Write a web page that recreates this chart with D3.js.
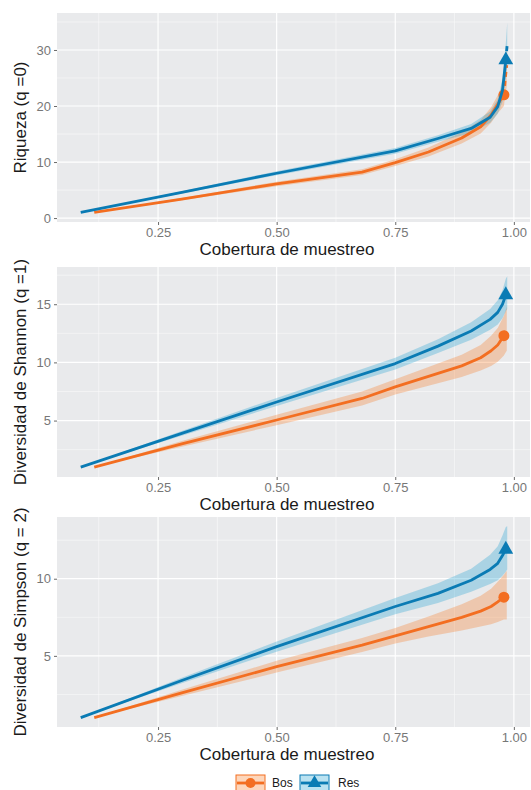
<!DOCTYPE html>
<html>
<head>
<meta charset="utf-8">
<script src="https://cdn.jsdelivr.net/npm/d3@7"></script>
<style>
  body { margin: 0; background: #fff; }
  svg { display: block; font-family: "Liberation Sans", Arial, sans-serif; }
</style>
</head>
<body>
<div id="chart"></div>
<script>
// sample coverage (shared by the three diversity orders)
const bosCov = [0.1155, 0.30, 0.50, 0.68, 0.75, 0.82, 0.89, 0.93, 0.952, 0.966, 0.979];
const bosCovExt = [0.979, 0.982, 0.985];
const resCov = [0.087, 0.30, 0.50, 0.75, 0.84, 0.91, 0.95, 0.966, 0.976, 0.983];
const resCovExt = [0.983, 0.986];

// q = 0
const richBos = [1, 3.4, 6.1, 8.2, 9.9, 11.8, 14.3, 16.3, 18.4, 20.3, 22.0];
const richBosLo = [1, 3.2, 5.7, 7.7, 9.3, 11.0, 13.3, 15.1, 17.0, 18.7, 20.0];
const richBosHi = [1, 3.6, 6.5, 8.7, 10.5, 12.6, 15.3, 17.5, 19.8, 21.9, 24.0];
const richBosExt = [22.0, 25.0, 27.3];
const richBosExtLo = [20.0, 22.0, 23.5];
const richBosExtHi = [24.0, 28.0, 31.0];
const richRes = [1, 4.6, 8.0, 12.0, 14.2, 16.0, 18.0, 19.9, 22.8, 28.2];
const richResLo = [1, 4.4, 7.65, 11.5, 13.6, 15.2, 17.0, 18.6, 20.8, 25.2];
const richResHi = [1, 4.8, 8.35, 12.5, 14.8, 16.8, 19.0, 21.2, 24.8, 31.2];
const richResExt = [28.2, 31.0];
const richResExtLo = [25.2, 27.1];
const richResExtHi = [31.2, 34.9];

// q = 1
const shanBos = [1, 3.0, 5.05, 6.9, 7.9, 8.8, 9.7, 10.4, 11.0, 11.5, 12.3];
const shanBosLo = [1, 2.75, 4.6, 6.3, 7.25, 8.0, 8.75, 9.3, 9.7, 10.05, 10.6];
const shanBosHi = [1, 3.25, 5.5, 7.5, 8.55, 9.6, 10.65, 11.5, 12.3, 12.95, 14.0];
const shanBosExt = [12.3, 12.6, 12.9];
const shanBosExtLo = [10.6, 10.8, 11.0];
const shanBosExtHi = [14.0, 14.4, 14.8];
const shanRes = [1, 3.9, 6.6, 9.9, 11.4, 12.7, 13.7, 14.3, 15.0, 15.8];
const shanResLo = [1, 3.7, 6.25, 9.4, 10.8, 11.95, 12.8, 13.25, 13.8, 14.4];
const shanResHi = [1, 4.1, 6.95, 10.4, 12.0, 13.45, 14.6, 15.35, 16.2, 17.2];
const shanResExt = [15.8, 16.1];
const shanResExtLo = [14.4, 14.6];
const shanResExtHi = [17.2, 17.4];

// q = 2
const simpBos = [1, 2.6, 4.3, 5.7, 6.3, 6.9, 7.5, 7.9, 8.2, 8.5, 8.8];
const simpBosLo = [1, 2.4, 3.92, 5.25, 5.8, 6.25, 6.65, 6.9, 7.05, 7.2, 7.35];
const simpBosHi = [1, 2.8, 4.68, 6.15, 6.8, 7.55, 8.35, 8.9, 9.35, 9.8, 10.25];
const simpBosExt = [8.8, 8.9, 9.0];
const simpBosExtLo = [7.35, 7.35, 7.35];
const simpBosExtHi = [10.25, 10.4, 10.5];
const simpRes = [1, 3.4, 5.6, 8.2, 9.05, 9.9, 10.6, 11.0, 11.5, 11.9];
const simpResLo = [1, 3.22, 5.27, 7.7, 8.42, 9.15, 9.65, 9.9, 10.2, 10.45];
const simpResHi = [1, 3.58, 5.93, 8.75, 9.7, 10.65, 11.55, 12.1, 12.8, 13.35];
const simpResExt = [11.9, 12.1];
const simpResExtLo = [10.45, 10.6];
const simpResExtHi = [13.35, 13.4];

const xTicks = [0.25, 0.50, 0.75, 1.00];
const xMinor = [0.125, 0.375, 0.625, 0.875];
const groups = ['Bos', 'Res'];

const panels = [
    { ylab: 'Riqueza (q =0)', top: 13, bottom: 222, ydom: [-0.7, 36.6], ticks: [0, 10, 20, 30], minor: [5, 15, 25, 35],
      bos: [richBos, richBosLo, richBosHi, richBosExt, richBosExtLo, richBosExtHi],
      res: [richRes, richResLo, richResHi, richResExt, richResExtLo, richResExtHi] },
    { ylab: 'Diversidad de Shannon (q =1)', top: 267, bottom: 477, ydom: [0.15, 18.2], ticks: [5, 10, 15], minor: [2.5, 7.5, 12.5, 17.5],
      bos: [shanBos, shanBosLo, shanBosHi, shanBosExt, shanBosExtLo, shanBosExtHi],
      res: [shanRes, shanResLo, shanResHi, shanResExt, shanResExtLo, shanResExtHi] },
    { ylab: 'Diversidad de Simpson (q = 2)', top: 517, bottom: 727, ydom: [0.39, 14.0], ticks: [5, 10], minor: [2.5, 7.5, 12.5],
      bos: [simpBos, simpBosLo, simpBosHi, simpBosExt, simpBosExtLo, simpBosExtHi],
      res: [simpRes, simpResLo, simpResHi, simpResExt, simpResExtLo, simpResExtHi] }
];

const W = 531, H = 790;
const left = 57, right = 530;
const lineCol = { Bos: '#f36e21', Res: '#0a7bb4' };
const fillCol = { Bos: '#f8761f', Res: '#1ba0d0' };

const svg = d3.select('#chart').append('svg')
    .attr('width', W)
    .attr('height', H);

const x = d3.scaleLinear().domain([0.037, 1.034]).range([left, right]);

const triangle = d3.symbol().type(d3.symbolTriangle).size(95);

panels.forEach(p => {
    let y = d3.scaleLinear().domain(p.ydom).range([p.bottom, p.top]);
    let g = svg.append('g');

    g.append('rect')
        .attr('x', left).attr('y', p.top)
        .attr('width', right - left).attr('height', p.bottom - p.top)
        .attr('fill', '#e9eaec');

    let clipId = 'clip' + p.top;
    g.append('clipPath').attr('id', clipId)
        .append('rect')
        .attr('x', left).attr('y', p.top)
        .attr('width', right - left).attr('height', p.bottom - p.top);

    // grid
    g.selectAll('.xmin').data(xMinor).enter().append('line')
        .attr('x1', d => x(d)).attr('x2', d => x(d))
        .attr('y1', p.top).attr('y2', p.bottom)
        .attr('stroke', '#fafafa').attr('stroke-width', 0.6);
    g.selectAll('.ymin').data(p.minor.filter(v => y(v) > p.top)).enter().append('line')
        .attr('x1', left).attr('x2', right)
        .attr('y1', d => y(d)).attr('y2', d => y(d))
        .attr('stroke', '#fafafa').attr('stroke-width', 0.6);
    g.selectAll('.xmaj').data(xTicks).enter().append('line')
        .attr('x1', d => x(d)).attr('x2', d => x(d))
        .attr('y1', p.top).attr('y2', p.bottom)
        .attr('stroke', '#fff').attr('stroke-width', 1.2);
    g.selectAll('.ymaj').data(p.ticks).enter().append('line')
        .attr('x1', left).attr('x2', right)
        .attr('y1', d => y(d)).attr('y2', d => y(d))
        .attr('stroke', '#fff').attr('stroke-width', 1.2);

    // axes
    let xAxis = d3.axisBottom(x).tickValues(xTicks).tickFormat(d3.format('.2f'))
        .tickSize(3).tickPadding(3);
    let ax = g.append('g').attr('transform', `translate(0, ${p.bottom})`).call(xAxis);
    let yAxis = d3.axisLeft(y).tickValues(p.ticks).tickFormat(d3.format('d'))
        .tickSize(3).tickPadding(3);
    let ay = g.append('g').attr('transform', `translate(${left}, 0)`).call(yAxis);
    [ax, ay].forEach(a => {
        a.select('.domain').remove();
        a.selectAll('line').attr('stroke', '#6a6a6a');
        a.selectAll('text').attr('fill', '#777').style('font-size', '13px');
    });

    g.append('text')
        .attr('x', 287).attr('y', p.bottom + 33)
        .attr('text-anchor', 'middle')
        .style('font-size', '17px').attr('fill', '#1a1a1a')
        .text('Cobertura de muestreo');

    g.append('text')
        .attr('transform', `translate(26, ${(p.top + p.bottom) / 2}) rotate(-90)`)
        .attr('text-anchor', 'middle')
        .style('font-size', '17px').attr('fill', '#1a1a1a')
        .text(p.ylab);

    let plot = g.append('g').attr('clip-path', `url(#${clipId})`);

    groups.forEach(k => {
        let cov = k === 'Bos' ? bosCov : resCov;
        let covExt = k === 'Bos' ? bosCovExt : resCovExt;
        let [val, lo, hi, ext, extLo, extHi] = k === 'Bos' ? p.bos : p.res;
        let obs = cov.map((c, i) => ({ c: c, v: val[i], lo: lo[i], hi: hi[i] }));
        let ex = covExt.map((c, i) => ({ c: c, v: ext[i], lo: extLo[i], hi: extHi[i] }));

        let area = d3.area().x(d => x(d.c)).y0(d => y(d.lo)).y1(d => y(d.hi));
        plot.append('path').datum(obs.concat(ex.slice(1)))
            .attr('d', area)
            .attr('fill', fillCol[k]).attr('fill-opacity', 0.3);
    });

    groups.forEach(k => {
        let cov = k === 'Bos' ? bosCov : resCov;
        let covExt = k === 'Bos' ? bosCovExt : resCovExt;
        let [val, lo, hi, ext] = k === 'Bos' ? p.bos : p.res;
        let line = d3.line().x(d => x(d[0])).y(d => y(d[1]));

        plot.append('path').datum(cov.map((c, i) => [c, val[i]]))
            .attr('d', line).attr('fill', 'none')
            .attr('stroke', lineCol[k]).attr('stroke-width', 2.8)
            .attr('stroke-linejoin', 'round');
        plot.append('path').datum(covExt.map((c, i) => [c, ext[i]]))
            .attr('d', line).attr('fill', 'none')
            .attr('stroke', lineCol[k]).attr('stroke-width', 2.8)
            .attr('stroke-dasharray', '5,4');

        let mx = x(cov[cov.length - 1]), my = y(val[val.length - 1]);
        if (k === 'Bos') {
            plot.append('circle').attr('cx', mx).attr('cy', my).attr('r', 5.5)
                .attr('fill', lineCol[k]);
        } else {
            plot.append('path').attr('d', triangle)
                .attr('transform', `translate(${mx}, ${my})`)
                .attr('fill', lineCol[k]);
        }
    });
});

// legend
const legend = svg.append('g').attr('transform', 'translate(236, 775)');
groups.forEach((k, i) => {
    let lg = legend.append('g').attr('transform', `translate(${i * 64}, 0)`);
    lg.append('rect').attr('x', 0).attr('y', 0).attr('width', 29).attr('height', 16)
        .attr('fill', fillCol[k]).attr('fill-opacity', 0.3)
        .attr('stroke', lineCol[k]).attr('stroke-width', 1);
    lg.append('line').attr('x1', 1).attr('x2', 28).attr('y1', 8).attr('y2', 8)
        .attr('stroke', lineCol[k]).attr('stroke-width', 2.8);
    if (k === 'Bos') {
        lg.append('circle').attr('cx', 14.5).attr('cy', 8).attr('r', 5).attr('fill', lineCol[k]);
    } else {
        lg.append('path').attr('d', d3.symbol().type(d3.symbolTriangle).size(80))
            .attr('transform', 'translate(14.5, 8)').attr('fill', lineCol[k]);
    }
    lg.append('text').attr('x', k === 'Bos' ? 36 : 38).attr('y', 12)
        .style('font-size', '12px').attr('fill', '#1a1a1a')
        .text(k);
});
</script>
</body>
</html>
